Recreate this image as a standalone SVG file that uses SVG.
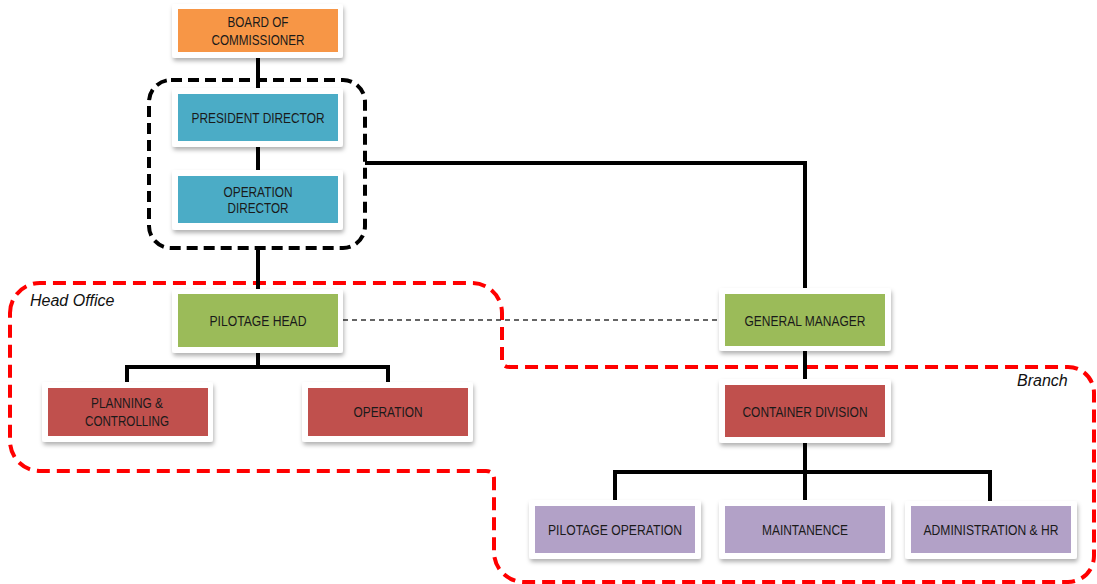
<svg xmlns="http://www.w3.org/2000/svg" width="1097" height="584" viewBox="0 0 1097 584">
<defs>
<filter id="sh" x="-10%" y="-10%" width="125%" height="135%">
<feDropShadow dx="1" dy="3" stdDeviation="2" flood-color="#000" flood-opacity="0.3"/>
</filter>
<style>
.frame{fill:#fff;filter:url(#sh)}
.orange{fill:#F79646}
.blue{fill:#4BACC6}
.green{fill:#9BBB59}
.red{fill:#C0504D}
.purple{fill:#B2A1C7}
.t{font-family:"Liberation Sans",Arial,sans-serif;font-size:14px;fill:#1a1a1a;text-anchor:middle}
.lbl{font-family:"Liberation Sans",Arial,sans-serif;font-size:16px;font-style:italic;fill:#111}
.conn{fill:none;stroke:#000;stroke-width:4;stroke-linejoin:miter}
.thin{fill:none;stroke:#333;stroke-width:1.3;stroke-dasharray:5 4}
.bdash{fill:none;stroke:#000;stroke-width:4;stroke-dasharray:11 6}
.rdash{fill:none;stroke:#FF0000;stroke-width:4;stroke-dasharray:13 7}
</style>
</defs>
<rect width="1097" height="584" fill="#fff"/>

<g id="regions">
<rect x="149" y="80" width="216" height="168" rx="22" class="bdash"/>
<path class="rdash" d="M10,313 A30,30 0 0 1 40,283 L472,283 A30,30 0 0 1 502,313 L502,360 Q502,367 510,367 L1068,367 A26,26 0 0 1 1094,393 L1094,556 A26,26 0 0 1 1068,582 L524,582 A30,30 0 0 1 494,552 L494,479 Q494,471 486,471 L40,471 A30,30 0 0 1 10,441 Z"/>
<text class="lbl" x="30" y="306">Head Office</text>
<text class="lbl" x="1017" y="386">Branch</text>
</g>

<g id="connectors">
<path class="conn" d="M258,58 V88"/>
<path class="conn" d="M258,147 V170"/>
<path class="conn" d="M258,248 V289"/>
<path class="conn" d="M365,163 H805 V288"/>
<path class="conn" d="M805,351 V379"/>
<path class="conn" d="M258,353 V367"/>
<path class="conn" d="M127,382 V367 H388 V382"/>
<path class="conn" d="M805,443 V500"/>
<path class="conn" d="M615,500 V472 H990 V501"/>
<path class="thin" d="M343,320 H719"/>
</g>

<g id="board">
<rect class="frame" x="172" y="4" width="171" height="54" rx="3"/>
<rect class="orange" x="178" y="9" width="160" height="43"/>
<text class="t" x="258" y="27" textLength="61" lengthAdjust="spacingAndGlyphs">BOARD OF</text>
<text class="t" x="258" y="45" textLength="93" lengthAdjust="spacingAndGlyphs">COMMISSIONER</text>
</g>

<g id="president">
<rect class="frame" x="172" y="88" width="171" height="59" rx="3"/>
<rect class="blue" x="178" y="94" width="160" height="47"/>
<text class="t" x="258" y="123" textLength="133" lengthAdjust="spacingAndGlyphs">PRESIDENT DIRECTOR</text>
</g>

<g id="opdirector">
<rect class="frame" x="172" y="170" width="171" height="60" rx="3"/>
<rect class="blue" x="178" y="176" width="160" height="47"/>
<text class="t" x="258" y="197" textLength="69" lengthAdjust="spacingAndGlyphs">OPERATION</text>
<text class="t" x="258" y="213" textLength="61" lengthAdjust="spacingAndGlyphs">DIRECTOR</text>
</g>

<g id="pilotagehead">
<rect class="frame" x="172" y="289" width="171" height="64" rx="3"/>
<rect class="green" x="178" y="294" width="160" height="53"/>
<text class="t" x="258" y="326" textLength="97" lengthAdjust="spacingAndGlyphs">PILOTAGE HEAD</text>
</g>

<g id="planning">
<rect class="frame" x="42" y="382" width="171" height="60" rx="3"/>
<rect class="red" x="48" y="388" width="160" height="48"/>
<text class="t" x="127" y="408" textLength="72" lengthAdjust="spacingAndGlyphs">PLANNING &amp;</text>
<text class="t" x="127" y="426" textLength="84" lengthAdjust="spacingAndGlyphs">CONTROLLING</text>
</g>

<g id="operation">
<rect class="frame" x="302" y="382" width="171" height="60" rx="3"/>
<rect class="red" x="308" y="388" width="160" height="48"/>
<text class="t" x="388" y="417" textLength="69" lengthAdjust="spacingAndGlyphs">OPERATION</text>
</g>

<g id="generalmanager">
<rect class="frame" x="719" y="288" width="172" height="63" rx="3"/>
<rect class="green" x="725" y="294" width="160" height="52"/>
<text class="t" x="805" y="326" textLength="121" lengthAdjust="spacingAndGlyphs">GENERAL MANAGER</text>
</g>

<g id="container">
<rect class="frame" x="719" y="379" width="172" height="64" rx="3"/>
<rect class="red" x="725" y="385" width="160" height="52"/>
<text class="t" x="805" y="417" textLength="125" lengthAdjust="spacingAndGlyphs">CONTAINER DIVISION</text>
</g>

<g id="pilotageop">
<rect class="frame" x="529" y="500" width="172" height="59" rx="3"/>
<rect class="purple" x="535" y="506" width="160" height="47"/>
<text class="t" x="615" y="535" textLength="134" lengthAdjust="spacingAndGlyphs">PILOTAGE OPERATION</text>
</g>

<g id="maintanence">
<rect class="frame" x="719" y="500" width="172" height="59" rx="3"/>
<rect class="purple" x="725" y="506" width="160" height="47"/>
<text class="t" x="805" y="535" textLength="86" lengthAdjust="spacingAndGlyphs">MAINTANENCE</text>
</g>

<g id="admin">
<rect class="frame" x="905" y="501" width="172" height="58" rx="3"/>
<rect class="purple" x="911" y="506" width="160" height="47"/>
<text class="t" x="991" y="535" textLength="135" lengthAdjust="spacingAndGlyphs">ADMINISTRATION &amp; HR</text>
</g>
</svg>
